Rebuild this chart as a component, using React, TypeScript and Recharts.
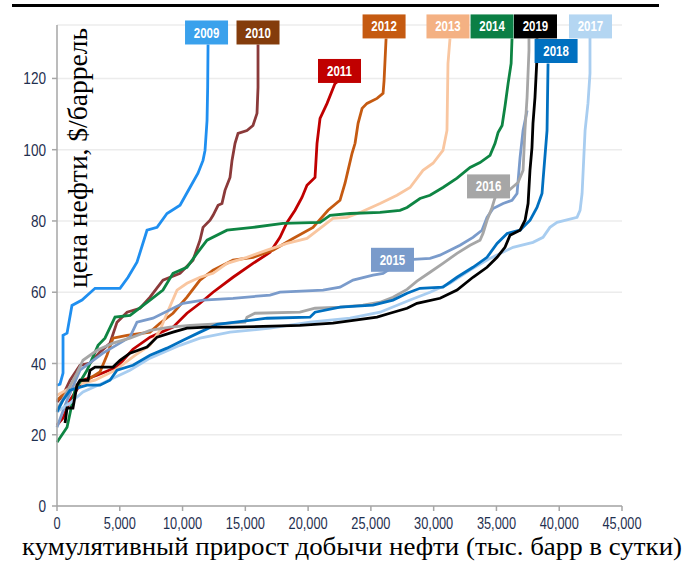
import React from 'react';
import { LineChart, Line, XAxis, YAxis, CartesianGrid, ReferenceDot } from 'recharts';

// cumulative supply (kb/d) vs oil price ($/bbl), one curve per year
const s2009 = [[0,33.9],[240,34.2],[480,37.3],[480,47.9],[800,48.5],[1190,56.3],[1990,57.8],[3030,61.1],[5020,61.1],[5660,64.2],[6370,68.4],[7170,77.4],[7970,78.2],[8760,82.1],[9800,84.4],[10590,89.4],[11230,93.4],[11630,97],[11790,99.8],[11950,108.2],[12000,117.5],[12030,129.5]];
const s2010 = [[0,29.2],[480,31.1],[1040,35.3],[1830,39.5],[2630,40.1],[3420,43.2],[4220,45.7],[4780,51.6],[5580,54.4],[6610,55.5],[7410,58.6],[8440,63.4],[9800,65.3],[10830,69],[11390,74.6],[11630,78.2],[12190,80.2],[12430,81.6],[12830,84.4],[13140,84.9],[13380,88.6],[13780,92.2],[13940,97],[14180,101.8],[14420,104.6],[15130,105.4],[15610,106.8],[15930,110.2],[16010,117.5],[16010,129.5]];
const s2011 = [[0,22.7],[480,24.7],[1040,29.7],[2070,35.3],[3190,36.7],[4780,39],[6050,44],[7410,47.4],[9240,50.2],[10350,54.1],[11390,56.9],[12430,60],[14020,64.2],[15610,68.1],[16970,71.2],[17760,75.4],[18320,79.6],[18960,83],[19510,86.6],[19910,90],[20550,92.2],[20710,101.8],[20950,108.8],[21510,113],[22140,118.6],[22300,118.9]];
const s2012 = [[0,29.7],[1040,33.1],[2390,35.3],[3420,37.6],[3980,42.3],[4460,47.1],[5580,47.9],[7410,48.8],[8200,51.3],[9240,54.1],[10350,58.6],[11390,63.4],[12430,66.2],[14020,69],[15610,69.8],[17200,71.8],[18800,75.1],[20390,78.2],[21590,83],[22540,85.8],[22940,90.6],[23180,94.2],[23500,99],[23740,101.8],[23980,107.4],[24300,111.6],[24690,113],[25490,114.4],[25970,115.8],[26050,119.4],[26210,131.2]];
const s2013 = [[0,31.1],[1430,33.9],[3030,35.3],[4620,38.1],[6210,42.3],[7410,45.1],[8200,49.3],[8760,54.1],[9560,60.6],[10350,62.5],[11390,64.2],[12430,65.3],[13540,68.1],[15130,69.8],[16730,71.8],[18320,73.7],[19910,75.1],[21980,80.7],[23100,81],[24140,82.4],[25730,84.9],[27080,87.2],[28120,89.4],[29150,94.2],[29950,96.2],[30740,99.8],[31060,105.4],[31140,124.2],[31300,131.2]];
const s2014 = [[0,17.9],[800,22.1],[1430,32.5],[2390,38.1],[3270,45.1],[3820,47.1],[4620,53],[5820,53.5],[7410,57.8],[8440,60.6],[9240,65.3],[10350,67],[11150,70.9],[11950,74.6],[13540,77.4],[15610,78.2],[18000,79.3],[20950,79.6],[21750,81.6],[23340,82.1],[25730,82.4],[27320,83],[27880,83.8],[28910,86.3],[29710,87.2],[30740,89.4],[31860,92],[32900,95],[33690,96.4],[34490,98.4],[34890,101.8],[35130,104.8],[35450,106.8],[35690,112.4],[35930,118.6],[36170,124.2],[36240,131.2]];
const s2015 = [[0,22.1],[800,29.7],[1830,38.1],[3660,42.9],[5810,47.4],[6370,51.6],[7650,52.7],[10040,56.9],[11630,57.8],[14020,58.3],[16970,59.2],[17760,60],[21190,60.6],[22540,61.4],[23580,63.4],[25170,64.8],[25970,65.3],[27320,68.4],[28360,69.2],[29710,69.5],[30500,70.4],[31300,71.8],[32100,73.2],[33130,75.4],[33850,77.4],[34250,81],[34730,83.5],[35530,84.9],[36240,85.8],[36640,87.7],[36880,97.8],[37120,105.4],[37440,111]];
const s2016 = [[0,26.9],[1590,37.3],[2070,40.9],[3190,43.7],[4460,45.7],[5810,47.1],[7410,49.3],[9000,50.2],[10590,50.7],[13780,51.3],[14970,51.6],[15130,53],[15770,54.1],[19350,54.4],[20550,55.5],[22540,55.8],[24370,56.4],[25730,57.2],[26760,58.6],[27880,60.8],[28670,63.1],[29710,65.6],[30740,68.1],[31860,70.9],[32900,73.2],[33690,74.6],[33930,76.5],[34250,80.2],[34650,83.8],[34890,86.6],[36000,88.6],[36720,90.8],[37120,94.2],[37270,105.4],[37440,114.7],[37590,127.8],[37590,131.2]];
const s2017 = [[0,26.4],[1040,28.9],[2070,32],[3660,34.5],[5810,38.1],[7410,41.5],[9800,45.1],[11390,47.1],[13780,48.8],[16970,49.9],[20150,51.6],[23340,52.7],[25730,54.4],[28120,57.8],[29710,60],[31300,62.5],[32900,66.2],[34490,69.5],[36320,72.6],[37910,74],[38710,75.4],[39260,78.2],[39830,79.6],[41420,81],[41660,83],[41820,87.7],[42060,105.4],[42290,113],[42450,121.4],[42450,131.5]];
const s2018 = [[0,26.4],[480,29.7],[1040,32.5],[2390,33.9],[3420,33.9],[4220,35.3],[4780,38.1],[6050,39.5],[7410,42.3],[8760,44.3],[10040,46.5],[11390,48.8],[12750,51],[16730,52.7],[20150,53],[20550,54.4],[22540,55.8],[25170,56.4],[26760,57.8],[27880,59.7],[28910,61.1],[30740,61.4],[31860,64.2],[33130,67],[34250,69.8],[35050,73.7],[35850,76.5],[36880,77.4],[37680,80.2],[38230,83.8],[38630,87.7],[38710,91.4],[39030,105.4],[39110,124.2]];
const s2019 = [[640,23.3],[800,27.5],[1270,27.5],[1590,33.9],[1830,35.3],[2470,35.3],[2630,38.1],[3030,39],[4460,39],[5020,40.9],[5810,42.9],[7170,44.6],[7970,47.4],[9240,48.8],[10350,49.9],[11950,50.2],[14020,50.2],[19350,50.7],[21980,51.3],[25490,53],[26520,54.1],[27880,55.5],[28670,56.9],[30510,58.3],[31860,60.6],[33130,64.2],[34250,67],[35050,69.8],[35680,72.6],[36080,76],[36880,77.4],[37280,80.2],[37520,84.9],[37670,94.2],[37830,100.6],[37910,107.4],[38070,114.7],[38230,125.9],[38230,131.2]];

const years = ['2009', '2010', '2011', '2012', '2013', '2014', '2015', '2016', '2017', '2018', '2019'];
const curves = [s2009, s2010, s2011, s2012, s2013, s2014, s2015, s2016, s2017, s2018, s2019];
const lineColors = ['#1f8ff0', '#8b3a3a', '#c00000', '#c55a11', '#f9c6a0', '#0e8543', '#7a9bcb', '#a6a6a6', '#a8cdf0', '#0070c0', '#000000'];
const tagColors = ['#3aa1ec', '#843c0c', '#c00000', '#c55a11', '#f4b183', '#0b7f45', '#7a9bcb', '#a6a6a6', '#b4d6f2', '#0070c0', '#000000'];
// where each year's tag sits (centre, data units)
const tagX = [11910, 16010, 22500, 26050, 31140, 34650, 26720, 34370, 42490, 39750, 38110];
const tagY = [132.9, 132.9, 122.1, 134.6, 134.6, 134.6, 69.1, 89.7, 134.6, 127.7, 134.6];

const xTicks = [0, 5000, 10000, 15000, 20000, 25000, 30000, 35000, 40000, 45000];
const yTicks = [0, 20, 40, 60, 80, 100, 120];

const tickFont = "'Liberation Sans Narrow', 'Liberation Sans', Arial, sans-serif";
const serif = "'Liberation Serif', 'Times New Roman', serif";

const XTick = (props: any) => {
  const { x, y, payload } = props;
  return (
    <g transform={`translate(${x},${y})`}>
      <text transform="scale(0.8,1)" textAnchor="middle" dy="0.71em" fontSize={16} fontFamily={tickFont} fill="#1f3050">
        {payload.value.toLocaleString('en-US')}
      </text>
    </g>
  );
};

const YTick = (props: any) => {
  const { x, y, payload } = props;
  return (
    <g transform={`translate(${x},${y})`}>
      <text transform="scale(0.8,1)" textAnchor="end" dy="0.355em" fontSize={17} fontFamily={tickFont} fill="#1f3050">
        {payload.value}
      </text>
    </g>
  );
};

const Tag = ({ cx, cy, text, color }: any) => (
  <g>
    <rect x={cx - 21.5} y={cy - 12} width={43} height={24} fill={color} />
    <g transform={`translate(${cx},${cy})`}>
      <text transform="scale(0.82,1)" textAnchor="middle" dy="0.36em" fontSize={14} fontWeight="bold" fontFamily={tickFont} fill="#ffffff">
        {text}
      </text>
    </g>
  </g>
);

export default function App() {
  return (
    <div style={{ position: 'absolute', left: 0, top: 0, width: 699, height: 562, background: '#fff' }}>
      <div style={{ position: 'absolute', left: 12, top: 4, width: 647, height: 3, background: '#000' }} />
      <LineChart width={699} height={562} margin={{ top: 25, right: 77, bottom: 26, left: 0 }}>
        <CartesianGrid vertical={false} stroke="#ececec" strokeWidth={1.5} />
        <XAxis
          type="number"
          dataKey="x"
          domain={[0, 45000]}
          ticks={xTicks}
          height={30}
          tickSize={5}
          tickMargin={7}
          stroke="#a6a6a6"
          strokeWidth={1.5}
          tick={<XTick />}
          allowDuplicatedCategory={false}
        />
        <YAxis
          type="number"
          dataKey="y"
          domain={[0, 135]}
          ticks={yTicks}
          width={57}
          tickSize={5}
          tickMargin={6}
          stroke="#a6a6a6"
          strokeWidth={1.5}
          tick={<YTick />}
        />
        {curves.map((c, i) => (
          <Line
            key={years[i]}
            data={c.map(([x, y]) => ({ x, y }))}
            dataKey="y"
            type="linear"
            stroke={lineColors[i]}
            strokeWidth={2.8}
            dot={false}
            activeDot={false}
            isAnimationActive={false}
          />
        ))}
        {years.map((yr, i) => (
          <ReferenceDot
            key={'tag' + yr}
            x={tagX[i]}
            y={tagY[i]}
            ifOverflow="visible"
            shape={(p: any) => <Tag cx={p.cx} cy={p.cy} text={yr} color={tagColors[i]} />}
          />
        ))}
      </LineChart>
      <svg width={699} height={562} style={{ position: 'absolute', left: 0, top: 0, pointerEvents: 'none' }}>
        <text x={87} y={158} transform="rotate(-90, 87, 158)" textAnchor="middle" fontSize={28} fontFamily={serif} fill="#000" textLength={260} lengthAdjust="spacingAndGlyphs">
          цена нефти, $/баррель
        </text>
        <text x={352} y={555} textAnchor="middle" fontSize={25} fontFamily={serif} fill="#000" textLength={660} lengthAdjust="spacingAndGlyphs">
          кумулятивный прирост добычи нефти (тыс. барр в сутки)
        </text>
      </svg>
    </div>
  );
}
